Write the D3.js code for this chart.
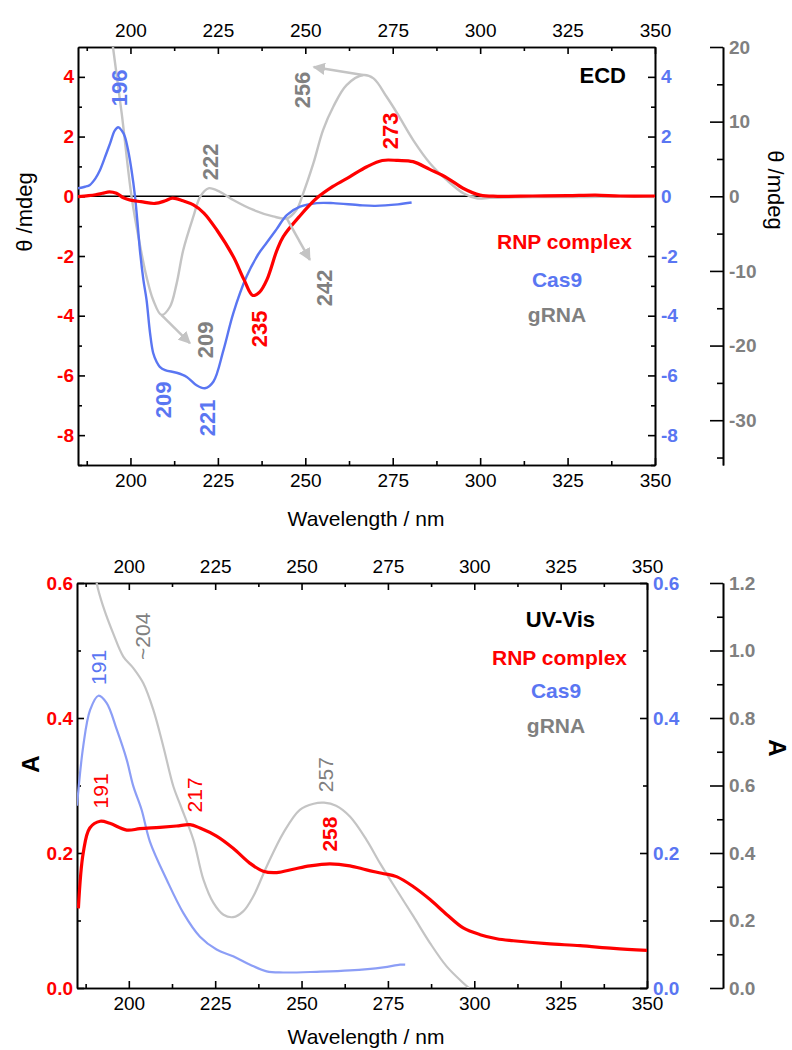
<!DOCTYPE html>
<html>
<head>
<meta charset="utf-8">
<script src="https://cdn.jsdelivr.net/npm/d3@7"></script>
<style>
  body { margin: 0; background: #fff; }
  svg { font-family: "Liberation Sans", Arial, sans-serif; }
</style>
</head>
<body>
<div id="chart"></div>
<script>
// ECD panel data: [wavelength nm, value]
const ecdRnp = [[185,-0.01],[188,0.02],[190,0.05],[192,0.1],[194,0.15],[196,0.1],[198,-0.05],[200,-0.13],[203,-0.18],
  [207,-0.24],[210,-0.15],[212,-0.06],[215,-0.15],[218,-0.29],[221,-0.56],[224.7,-1.13],[229.4,-2.02],[232.5,-2.8],
  [235,-3.32],[237,-3.2],[239,-2.8],[241.9,-1.8],[243.7,-1.35],[248.5,-0.65],[253.3,-0.06],[257.9,0.33],[262.8,0.66],
  [267.6,0.99],[272,1.2],[276.5,1.2],[280.8,1.16],[285.6,0.9],[290.5,0.62],[295.1,0.27],[300,0.04],[305,0],
  [315,0.01],[325,0.02],[333,0.04],[340,0.01],[350,0.01]];
const ecdCas9 = [[185,0.27],[187,0.32],[188.4,0.38],[190,0.6],[191.3,0.88],[193,1.4],[194.2,1.78],[195.5,2.2],[196.5,2.31],
  [197.5,2.2],[198.4,2.0],[199.4,1.5],[200.3,0.88],[201.3,0],[202.2,-1.13],[202.7,-1.8],[203.7,-2.8],[204.6,-3.47],
  [205.6,-4.58],[206.5,-5.25],[207.5,-5.55],[208.4,-5.71],[209.9,-5.82],[213.2,-5.91],[216.1,-6.05],[218.9,-6.33],
  [221.3,-6.43],[223.7,-6.21],[226.6,-5.15],[229.4,-3.92],[233.2,-2.69],[236.5,-1.95],[239,-1.55],[241.8,-1.1],
  [244.7,-0.63],[248.5,-0.35],[253.3,-0.23],[258,-0.23],[265.6,-0.3],[270,-0.32],[276.5,-0.27],[280.4,-0.21]];
const ecdGrna = [[192,32],[195,20],[197.5,11.1],[200.3,0],[202.7,-6.5],[204.6,-10.8],[206.5,-13.9],[208.9,-15.9],
  [211.3,-14.8],[213.2,-11.7],[215.1,-7.2],[218,-2.7],[220,0],[222.3,1.07],[225.6,0.6],[229.4,-0.5],[235,-1.8],
  [240.8,-2.7],[244.7,-2.95],[247.5,-1.8],[249.4,0.4],[252.3,4.4],[255.1,8.9],[258,12.0],[261.8,14.9],[266.6,16.25],
  [269.5,15.8],[273.3,13.3],[276.3,11.1],[280.9,7.5],[285.7,4.4],[290.4,2.2],[295.2,0.4],[299,-0.27],[302.8,-0.2],
  [310,-0.15],[320,-0.1],[330,-0.1],[340,-0.05],[350,-0.1]];

// UV-Vis panel data: [wavelength nm, absorbance]
const uvRnp = [[185.4,0.118],[186.8,0.2],[188.7,0.237],[191.7,0.247],[194.5,0.244],[199.4,0.234],[203.2,0.236],
  [209,0.238],[213.8,0.24],[217.7,0.242],[220.6,0.237],[225.4,0.225],[230.2,0.207],[235,0.185],[238.9,0.173],
  [242.8,0.171],[247.6,0.176],[252.4,0.181],[258.2,0.184],[264,0.181],[268.8,0.175],[273.2,0.17],[277.5,0.165],
  [282.4,0.15],[287.2,0.131],[292,0.109],[296.8,0.089],[301.7,0.079],[306.5,0.073],[311.3,0.07],[321,0.0656],
  [330.6,0.0627],[340.3,0.0587],[350,0.0557]];
const uvCas9 = [[185,0.27],[186.8,0.358],[188.8,0.412],[191.2,0.433],[193.6,0.422],[196.5,0.383],[199.4,0.338],
  [201.3,0.299],[203.7,0.264],[206.1,0.217],[211,0.16],[215.8,0.111],[220.6,0.076],[225.4,0.057],[230.2,0.047],
  [235.1,0.0345],[239.9,0.0246],[244.7,0.023],[254.4,0.024],[264,0.026],[273.7,0.0306],[278.5,0.0345],[280,0.0345]];
const uvGrna = [[189,1.35],[190.7,1.2],[192.6,1.13],[195.5,1.05],[198.4,0.982],[201.3,0.948],[204.2,0.903],
  [207.1,0.824],[210,0.715],[212.9,0.597],[215,0.54],[218.7,0.439],[221.6,0.321],[224.5,0.252],[227.4,0.217],
  [230.2,0.21],[233.1,0.227],[236,0.271],[239.9,0.36],[244.7,0.459],[249.5,0.528],[253.5,0.546],[256.5,0.549],
  [260,0.54],[264,0.508],[268.8,0.439],[272.7,0.37],[277.5,0.291],[282.4,0.212],[287.2,0.133],[292,0.064],
  [296.8,0.015],[298.5,0]];

// tick values
const xTicks = [200, 225, 250, 275, 300, 325, 350];
const xMinor = [187.5, 212.5, 237.5, 262.5, 287.5, 312.5, 337.5];
const ecdTicks = [-8, -6, -4, -2, 0, 2, 4];
const ecdMinor = [-9, -7, -5, -3, -1, 1, 3];
const ecdGrnaTicks = [-30, -20, -10, 0, 10, 20];
const ecdGrnaMinor = [-35, -25, -15, -5, 5, 15];
const uvTicks = [0, 0.2, 0.4, 0.6];
const uvMinor = [0.1, 0.3, 0.5];
const uvGrnaTicks = [0, 0.2, 0.4, 0.6, 0.8, 1.0, 1.2];
const uvGrnaMinor = [0.1, 0.3, 0.5, 0.7, 0.9, 1.1];

// peak labels: [nm, value on left scale, text, series]
const ecdPeaks = [[199.0,3.63,"196","cas"],[225.0,1.15,"222","rna"],[251.3,3.56,"256","rna"],[276.5,2.19,"273","rnp"],
  [257.6,-3.07,"242","rna"],[223.6,-4.81,"209","rna"],[239.0,-4.44,"235","rnp"],[211.6,-6.82,"209","cas"],[224.2,-7.42,"221","cas"]];
const uvPeaks = [[206.1,0.521,"~204","rna"],[193.4,0.475,"191","cas"],[193.9,0.292,"191","rnp"],[221.1,0.286,"217","rnp"],
  [259.2,0.316,"257","rna"],[260.2,0.228,"258","rnp"]];
// arrows from gRNA peaks to their labels (left-scale units)
const ecdArrows = [[[266.5,4.06],[252.4,4.33]],[[244.7,-0.74],[251.3,-2.13]],[[208.9,-3.98],[217,-4.92]]];

const red = "#ff0000", blue = "#5a76f2", grayTxt = "#808080", grayLine = "#c4c4c4";
const textColor = { rnp: red, cas: blue, rna: grayTxt };
const intFmt = d => String(d);          // plain hyphen for negatives, like the original
const decFmt = d => d.toFixed(1);

const svg = d3.select("#chart").append("svg").attr("width", 792).attr("height", 1050);
const defs = svg.append("defs");
defs.append("marker")
    .attr("id", "arrowHead")
    .attr("viewBox", "0 0 10 10")
    .attr("refX", 9).attr("refY", 5)
    .attr("markerWidth", 5).attr("markerHeight", 5)
    .attr("markerUnits", "strokeWidth")
    .attr("orient", "auto")
  .append("path").attr("d", "M0,0L10,5L0,10Z").attr("fill", grayLine);

function styleAxis(g, color, size, weight) {
    g.select(".domain").attr("stroke", "#000").attr("stroke-width", 1.6);
    g.selectAll(".tick line").attr("stroke", "#000").attr("stroke-width", 1.6);
    g.selectAll("text").style("font-size", size + "px").style("font-weight", weight).attr("fill", color);
}

function drawPanel(p) {
    const x = d3.scaleLinear().domain([185, 350]).range([p.left, p.right]);
    const y = d3.scaleLinear().domain(p.yDomain).range([p.bottom, p.top]);
    const y2 = d3.scaleLinear().domain(p.y2Domain).range([p.bottom, p.top]);

    const clipId = "clip" + p.id;
    defs.append("clipPath").attr("id", clipId)
      .append("rect").attr("x", p.left).attr("y", p.top)
        .attr("width", p.right - p.left).attr("height", p.bottom - p.top);

    // x axes (bottom + top), ticks inside
    const xb = svg.append("g").attr("transform", `translate(0,${p.bottom})`)
        .call(d3.axisBottom(x).tickValues(xTicks).tickSize(-7).tickPadding(9).tickSizeOuter(0));
    styleAxis(xb, "#000", 19, "normal");
    svg.append("g").attr("transform", `translate(0,${p.bottom})`)
        .call(d3.axisBottom(x).tickValues(xMinor).tickSize(-4).tickFormat("").tickSizeOuter(0))
        .call(g => styleAxis(g, "#000", 19, "normal"));
    const xt = svg.append("g").attr("transform", `translate(0,${p.top})`)
        .call(d3.axisTop(x).tickValues(xTicks).tickSize(-7).tickPadding(10).tickSizeOuter(0));
    styleAxis(xt, "#000", 19, "normal");
    svg.append("g").attr("transform", `translate(0,${p.top})`)
        .call(d3.axisTop(x).tickValues(xMinor).tickSize(-4).tickFormat("").tickSizeOuter(0))
        .call(g => styleAxis(g, "#000", 19, "normal"));

    // left axis (red)
    const yl = svg.append("g").attr("transform", `translate(${p.left},0)`)
        .call(d3.axisLeft(y).tickValues(p.yTicks).tickFormat(p.fmt).tickSize(-7).tickPadding(4).tickSizeOuter(0));
    styleAxis(yl, red, 19, "bold");
    svg.append("g").attr("transform", `translate(${p.left},0)`)
        .call(d3.axisLeft(y).tickValues(p.yMinor).tickSize(-4).tickFormat("").tickSizeOuter(0))
        .call(g => styleAxis(g, red, 19, "bold"));

    // inner right axis (blue), same scale as left
    const yr = svg.append("g").attr("transform", `translate(${p.right},0)`)
        .call(d3.axisRight(y).tickValues(p.yTicks).tickFormat(p.fmt).tickSize(-7).tickPadding(6).tickSizeOuter(0));
    styleAxis(yr, blue, 19, "bold");
    svg.append("g").attr("transform", `translate(${p.right},0)`)
        .call(d3.axisRight(y).tickValues(p.yMinor).tickSize(-4).tickFormat("").tickSizeOuter(0))
        .call(g => styleAxis(g, blue, 19, "bold"));

    // outer right axis (gray)
    const yo = svg.append("g").attr("transform", `translate(${p.x2},0)`)
        .call(d3.axisRight(y2).tickValues(p.y2Ticks).tickFormat(p.fmt2).tickSize(-13).tickPadding(6).tickSizeOuter(0));
    styleAxis(yo, grayTxt, 19, "bold");
    svg.append("g").attr("transform", `translate(${p.x2},0)`)
        .call(d3.axisRight(y2).tickValues(p.y2Minor).tickSize(-6).tickFormat("").tickSizeOuter(0))
        .call(g => styleAxis(g, grayTxt, 19, "bold"));

    const plot = svg.append("g").attr("clip-path", `url(#${clipId})`);

    if (p.zeroLine) {
        plot.append("line")
            .attr("x1", p.left).attr("x2", p.right)
            .attr("y1", y(0)).attr("y2", y(0))
            .attr("stroke", "#000").attr("stroke-width", 1.6);
    }

    const lineL = d3.line().x(d => x(d[0])).y(d => y(d[1])).curve(d3.curveCatmullRom.alpha(0.5));
    const lineR = d3.line().x(d => x(d[0])).y(d => y2(d[1])).curve(d3.curveCatmullRom.alpha(0.5));

    plot.append("path").datum(p.rna).attr("d", lineR)
        .attr("fill", "none").attr("stroke", grayLine).attr("stroke-width", p.thin);
    plot.append("path").datum(p.cas).attr("d", lineL)
        .attr("fill", "none").attr("stroke", p.casLine).attr("stroke-width", p.thin);
    plot.append("path").datum(p.rnp).attr("d", lineL)
        .attr("fill", "none").attr("stroke", red).attr("stroke-width", 3.2);

    // arrows
    svg.selectAll(null).data(p.arrows || []).join("line")
        .attr("x1", d => x(d[0][0])).attr("y1", d => y(d[0][1]))
        .attr("x2", d => x(d[1][0])).attr("y2", d => y(d[1][1]))
        .attr("stroke", grayLine).attr("stroke-width", 2.5)
        .attr("marker-end", "url(#arrowHead)");

    // peak labels, rotated
    svg.selectAll(null).data(p.peaks).join("text")
        .attr("transform", d => `translate(${x(d[0])},${y(d[1])}) rotate(-90)`)
        .attr("text-anchor", "middle")
        .style("font-size", p.peakSize + "px")
        .style("font-weight", d => p.peakBold(d) ? "bold" : "normal")
        .attr("fill", d => textColor[d[3]])
        .text(d => d[2]);

    // in-plot legend text
    const leg = p.legend;
    svg.append("text").attr("x", leg.titleX).attr("y", leg.titleY).attr("text-anchor", "end")
        .style("font-size", "22px").style("font-weight", "bold").attr("fill", "#000").text(leg.title);
    svg.append("text").attr("x", leg.rnpX).attr("y", leg.rnpY).attr("text-anchor", "end")
        .style("font-size", "21px").style("font-weight", "bold").attr("fill", red).text("RNP complex");
    svg.append("text").attr("x", leg.midX).attr("y", leg.casY).attr("text-anchor", "middle")
        .style("font-size", "21px").style("font-weight", "bold").attr("fill", blue).text("Cas9");
    svg.append("text").attr("x", leg.midX).attr("y", leg.rnaY).attr("text-anchor", "middle")
        .style("font-size", "21px").style("font-weight", "bold").attr("fill", grayTxt).text("gRNA");

    // axis titles
    svg.append("text").attr("x", 366).attr("y", p.xTitleY).attr("text-anchor", "middle")
        .style("font-size", "21px").attr("fill", "#000").text("Wavelength / nm");
    svg.append("text")
        .attr("transform", `translate(${p.yTitleL[0]},${p.yTitleL[1]}) rotate(-90)`)
        .attr("text-anchor", "middle").attr("dominant-baseline", "central")
        .style("font-size", p.yTitleSize + "px").style("font-weight", p.yTitleWeight)
        .attr("fill", "#000").text(p.yTitle);
    svg.append("text")
        .attr("transform", `translate(${p.yTitleR[0]},${p.yTitleR[1]}) rotate(90)`)
        .attr("text-anchor", "middle").attr("dominant-baseline", "central")
        .style("font-size", p.yTitleSize + "px").style("font-weight", p.yTitleWeight)
        .attr("fill", "#000").text(p.yTitle);
}

drawPanel({
    id: "ecd", left: 78, right: 655, top: 47, bottom: 465, x2: 723,
    yDomain: [-9, 5], yTicks: ecdTicks, yMinor: ecdMinor, fmt: intFmt,
    y2Domain: [-36, 20], y2Ticks: ecdGrnaTicks, y2Minor: ecdGrnaMinor, fmt2: intFmt,
    rnp: ecdRnp, cas: ecdCas9, rna: ecdGrna, casLine: "#5a76f2", thin: 2.4,
    zeroLine: true, arrows: ecdArrows, peaks: ecdPeaks, peakSize: 22, peakBold: () => true,
    legend: { title: "ECD", titleX: 626, titleY: 83, rnpX: 632, rnpY: 249, midX: 557, casY: 287, rnaY: 322 },
    xTitleY: 526,
    yTitle: "θ /mdeg", yTitleSize: 22, yTitleWeight: "normal", yTitleL: [24, 212], yTitleR: [775, 190]
});

drawPanel({
    id: "uv", left: 77, right: 647, top: 583, bottom: 988, x2: 723,
    yDomain: [0, 0.6], yTicks: uvTicks, yMinor: uvMinor, fmt: decFmt,
    y2Domain: [0, 1.2], y2Ticks: uvGrnaTicks, y2Minor: uvGrnaMinor, fmt2: decFmt,
    rnp: uvRnp, cas: uvCas9, rna: uvGrna, casLine: "#8c9ef6", thin: 2.2,
    zeroLine: false, arrows: [], peaks: uvPeaks, peakSize: 21, peakBold: d => d[2] === "258",
    legend: { title: "UV-Vis", titleX: 595, titleY: 627, rnpX: 627, rnpY: 665, midX: 556, casY: 698, rnaY: 733 },
    xTitleY: 1044,
    yTitle: "A", yTitleSize: 24, yTitleWeight: "bold", yTitleL: [30, 764], yTitleR: [777, 748]
});
</script>
</body>
</html>
